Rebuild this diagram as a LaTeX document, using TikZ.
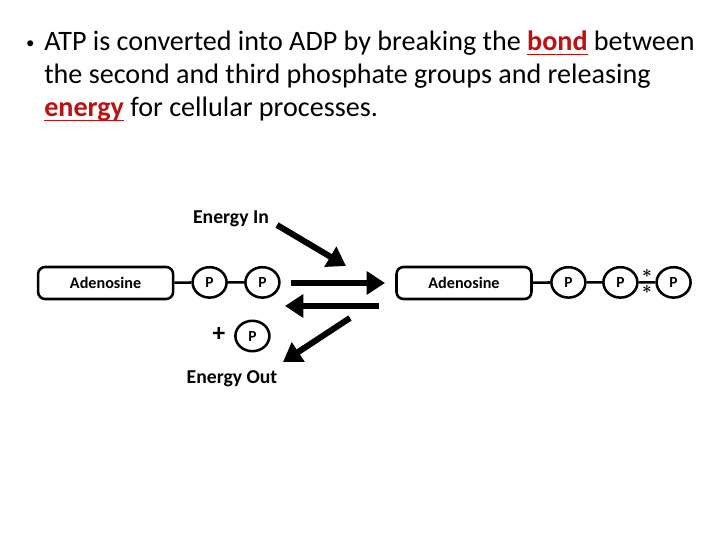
\documentclass[tikz,border=0pt]{standalone}
\usepackage{bm}
\usepackage{fontspec}
\setmainfont{Carlito}
\usetikzlibrary{arrows.meta, shapes.geometric}
\definecolor{bondred}{RGB}{190,16,16}
% rot, fett, mit Unterstrich dicht an der Grundlinie
\newcommand{\redword}[1]{{\color{bondred}\setbox0\hbox{\textbf{#1}}%
    \rlap{\rule[-3.2pt]{\wd0}{1.4pt}}\box0}}

\begin{document}
\begin{tikzpicture}[
    adenbox/.style={draw, line width=1.8pt, rounded corners=5pt, minimum width=3.375cm,
        minimum height=0.8cm, inner sep=0pt, font=\fontsize{11.5}{12}\selectfont\bfseries},
    phos/.style={draw, ellipse, line width=1.8pt, minimum width=0.85cm, minimum height=0.76cm,
        inner sep=0pt, font=\fontsize{11}{12}\selectfont\bfseries},
    bond/.style={line width=1.8pt},
    bigarrow/.style={line width=4.3pt, -{Triangle[length=13pt, width=16pt]}},
    lbl/.style={font=\fontsize{14}{16}\selectfont\bfseries},
    star/.style={inner sep=0pt, font=\fontsize{12}{12}\selectfont},
    titletext/.style={anchor=base west, inner sep=0pt, font=\fontsize{20}{24}\selectfont}
]
    % 1. Rahmen (Seitenformat)
    \useasboundingbox (0,0) rectangle (18,13.5);

    % 2. Text oben
    \node[inner sep=0pt] (bullet) at (0.76,12.39) {\fontsize{12}{12}\selectfont\textbullet};
    \node[titletext] (title1) at (1.1,12.225) {ATP is converted into ADP by breaking the
        \redword{bond} between};
    \node[titletext] (title2) at (1.1,11.4) {the second and third phosphate groups and releasing};
    \node[titletext] (title3) at (1.1,10.575) {\redword{energy} for cellular processes.};

    % 3. ADP (links)
    \node[adenbox] (adenL) at (2.64,6.425) {Adenosine};
    \node[phos] (pL1) at (5.24,6.44) {P};
    \node[phos] (pL2) at (6.56,6.44) {P};
    \draw[bond] (adenL) -- (pL1) -- (pL2);

    % freies Phosphat
    \node[font=\fontsize{18}{18}\selectfont\bfseries, inner sep=0pt] (plus) at (5.475,5.15) {+};
    \node[phos] (pFree) at (6.31,5.1) {P};

    % 4. ATP (rechts)
    \node[adenbox] (adenR) at (11.6,6.425) {Adenosine};
    \node[phos] (pR1) at (14.21,6.44) {P};
    \node[phos] (pR2) at (15.51,6.44) {P};
    \node[phos] (pR3) at (16.84,6.44) {P};
    \draw[bond] (adenR) -- (pR1) -- (pR2) -- (pR3);

    % energiereiche Bindung
    \node[star] (starTop) at (16.175,6.65) {$\bm{\ast}$};
    \node[star] (starBot) at (16.175,6.25) {$\bm{\ast}$};

    % 5. Energie-Beschriftungen
    \node[lbl] (energyIn) at (5.775,8.025) {Energy In};
    \node[lbl] (energyOut) at (5.8,4.025) {Energy Out};

    % 6. Pfeile
    \coordinate (inTail) at (6.925,7.875);
    \coordinate (inTip) at (8.65,6.85);
    \coordinate (fwTail) at (7.275,6.425);
    \coordinate (fwTip) at (9.625,6.425);
    \coordinate (bwTail) at (9.475,5.85);
    \coordinate (bwTip) at (7.125,5.85);
    \coordinate (outTail) at (8.75,5.55);
    \coordinate (outTip) at (7.075,4.45);

    \draw[bigarrow] (inTail) -- (inTip);
    \draw[bigarrow] (fwTail) -- (fwTip);
    \draw[bigarrow] (bwTail) -- (bwTip);
    \draw[bigarrow] (outTail) -- (outTip);

\end{tikzpicture}
\end{document}
